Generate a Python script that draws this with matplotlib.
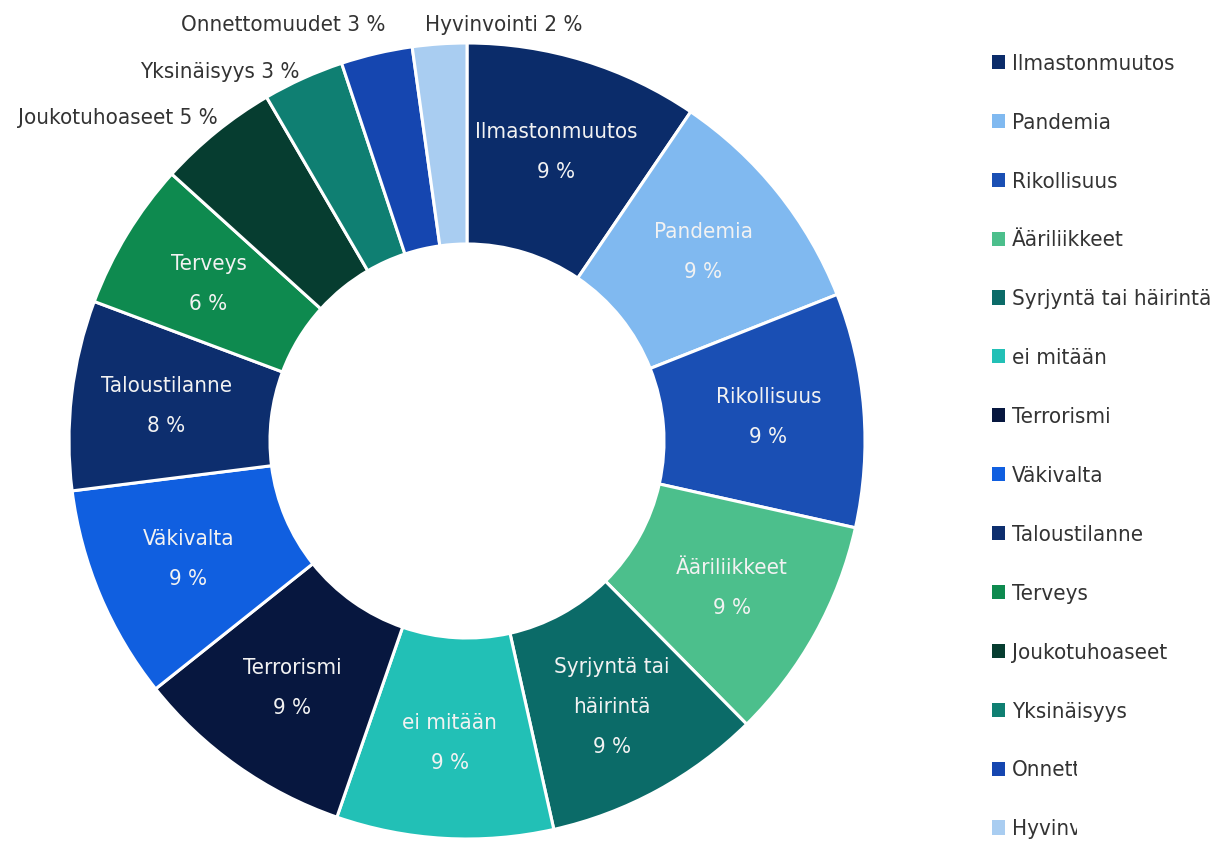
import numpy as np
import matplotlib
matplotlib.use('Agg')
import matplotlib.pyplot as plt
from matplotlib.patches import Patch, Rectangle

# data (share of answers, %)
labels = ['Ilmastonmuutos', 'Pandemia', 'Rikollisuus', 'Ääriliikkeet',
          'Syrjyntä tai häirintä', 'ei mitään', 'Terrorismi', 'Väkivalta',
          'Taloustilanne', 'Terveys', 'Joukotuhoaseet', 'Yksinäisyys',
          'Onnettomuudet', 'Hyvinvointi']
inner_text = ['Ilmastonmuutos', 'Pandemia', 'Rikollisuus', 'Ääriliikkeet',
              'Syrjyntä tai\nhäirintä', 'ei mitään', 'Terrorismi', 'Väkivalta',
              'Taloustilanne', 'Terveys', None, None, None, None]
values = [9.5, 9.5, 9.5, 9.1, 8.9, 8.8, 9.0, 8.7, 7.7, 6.0, 4.9, 3.3, 2.9, 2.2]
shown_pct = [9, 9, 9, 9, 9, 9, 9, 9, 8, 6, 5, 3, 3, 2]

colors = ['#0b2c6a', '#80b9f0', '#1a4fb4', '#4cbf8c', '#0b6b68', '#22c0b6',
          '#07173f', '#105fe0', '#0d2e6e', '#0e8a4f', '#063d30', '#0f7f72',
          '#1546b0', '#a9cdf1']

plt.rcParams['font.family'] = ['DejaVu Sans']
plt.rcParams['font.stretch'] = 'condensed'

fig = plt.figure(figsize=(12.12, 8.44), dpi=100)
ax = fig.add_axes([69 / 1212, 5 / 844, 796 / 1212, 796 / 844])

wedges, _ = ax.pie(values, colors=colors, startangle=90, counterclock=False,
                   radius=1.0,
                   wedgeprops=dict(width=0.505, edgecolor='white', linewidth=2.2))
ax.set_xlim(-1, 1)
ax.set_ylim(-1, 1)
ax.set_aspect('equal')

# labels inside the bigger slices
for w, txt, p in zip(wedges, inner_text, shown_pct):
    if txt is None:
        continue
    ang = np.deg2rad((w.theta1 + w.theta2) / 2)
    r = 0.76
    ax.text(r * np.cos(ang), r * np.sin(ang), f'{txt}\n{p} %',
            ha='center', va='center', color='#f2f2f2', fontsize=16,
            linespacing=2.25)

# labels outside the small slices
outer = [(10, -0.626, 0.812, 'right'), (11, -0.42, 0.927, 'right'),
         (12, -0.206, 1.045, 'right'), (13, -0.106, 1.045, 'left')]
for i, x, y, ha in outer:
    ax.text(x, y, f'{labels[i]} {shown_pct[i]} %', ha=ha, va='center',
            color='#333333', fontsize=16, clip_on=False)

handles = [Patch(facecolor=c, edgecolor='none') for c in colors]
fig.legend(handles, labels, loc='upper left', bbox_to_anchor=(0.802, 0.96),
           frameon=False, fontsize=16, handlelength=0.6, handleheight=0.6,
           handletextpad=0.3, labelspacing=1.75, labelcolor='#333333')

# legend text is cut off at the bottom in the original image
fig.patches.append(Rectangle((1077 / 1212, 0), 0.2, 92 / 844,
                             transform=fig.transFigure, facecolor='white',
                             edgecolor='none', zorder=10))

fig.savefig('out.png', dpi=100, facecolor='white')
